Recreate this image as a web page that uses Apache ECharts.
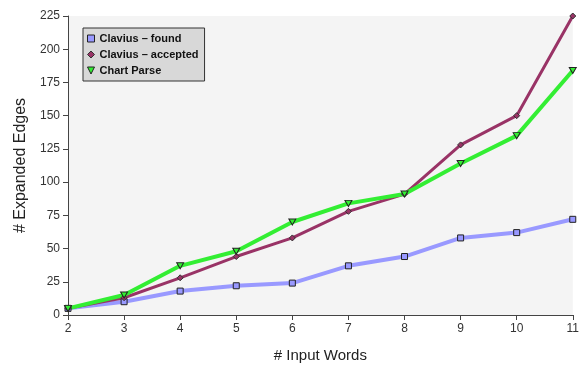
<!DOCTYPE html>
<html><head><meta charset="utf-8">
<script src="https://cdn.jsdelivr.net/npm/echarts@6/dist/echarts.min.js"></script>
<style>html,body{margin:0;padding:0;background:#fff}#c{width:582px;height:369px}</style>
</head><body><div id="c"></div>
<script>
const inputWords = [2,3,4,5,6,7,8,9,10,11];
const claviusFound = [5,10,18,22,24,37,44,58,62,72];
const claviusAccepted = [5,13,28,44,58,78,91,128,150,225];
const chartParse = [5,15,37,48,70,84,91,114,135,184];
const seriesNames = ['Clavius \u2013 found','Clavius \u2013 accepted','Chart Parse'];
const yTicks = [0,25,50,75,100,125,150,175,200,225];

const tri = 'path://M0,0 L10,0 L5,10 Z';
const pair = a => inputWords.map((x,i)=>[x,a[i]]);
const chart = echarts.init(document.getElementById('c'));
chart.setOption({
  animation:false,
  textStyle:{fontFamily:'Liberation Sans, Arial, sans-serif'},
  grid:{left:68,right:4,top:16,bottom:54,show:true,backgroundColor:'#f4f4f4',borderWidth:0},
  legend:{
    left:83,top:28,orient:'vertical',
    padding:[5,6,5,4],itemGap:5,itemWidth:7,itemHeight:7,
    backgroundColor:'#d8d8d8',borderColor:'#333',borderWidth:1,
    textStyle:{fontWeight:'bold',fontSize:11,color:'#111',padding:[0,0,0,0]},
    data:[
      {name:seriesNames[0],icon:'rect',itemStyle:{color:'#9999ff',borderColor:'#222',borderWidth:1}},
      {name:seriesNames[1],icon:'diamond',itemStyle:{color:'#993366',borderColor:'#333',borderWidth:1}},
      {name:seriesNames[2],icon:tri,itemStyle:{color:'#33ee33',borderColor:'#222',borderWidth:1}}
    ]
  },
  xAxis:{type:'value',min:2,max:11,interval:1,
    name:'# Input Words',nameLocation:'middle',nameGap:33,
    nameTextStyle:{fontSize:15,color:'#222'},
    axisLine:{lineStyle:{color:'#444',width:1}},
    axisTick:{show:true,length:5,lineStyle:{color:'#444'}},
    axisLabel:{fontSize:12,color:'#333',margin:8},
    splitLine:{show:false}},
  yAxis:{type:'value',min:0,max:225,interval:25,
    name:'# Expanded Edges',nameLocation:'middle',nameGap:39,
    nameTextStyle:{fontSize:16,color:'#222'},
    axisLine:{show:true,lineStyle:{color:'#444',width:1}},
    axisTick:{show:true,length:5,lineStyle:{color:'#444'}},
    axisLabel:{fontSize:12,color:'#333',margin:8,formatter:v=>yTicks.includes(v)?String(v):''},
    splitLine:{show:false}},
  series:[
    {name:seriesNames[0],type:'line',data:pair(claviusFound),symbol:'rect',symbolSize:6,
     lineStyle:{color:'#9999ff',width:4},itemStyle:{color:'#9999ff',borderColor:'#222',borderWidth:1}},
    {name:seriesNames[1],type:'line',data:pair(claviusAccepted),symbol:'diamond',symbolSize:6,
     lineStyle:{color:'#993366',width:3},itemStyle:{color:'#993366',borderColor:'#333',borderWidth:1}},
    {name:seriesNames[2],type:'line',data:pair(chartParse),symbol:tri,symbolSize:[7,6],
     lineStyle:{color:'#33ee33',width:4},itemStyle:{color:'#33ee33',borderColor:'#222',borderWidth:1}}
  ]
});
</script></body></html>
